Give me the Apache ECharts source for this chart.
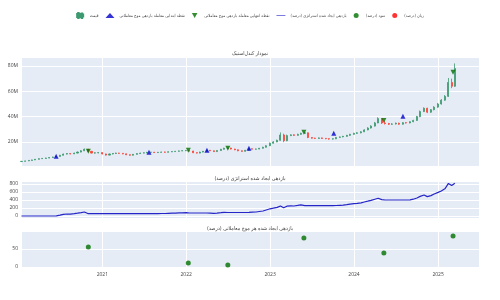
<!DOCTYPE html>
<html><head><meta charset="utf-8">
<script src="https://cdn.jsdelivr.net/npm/echarts@6/dist/echarts.min.js"></script>
<style>html,body{margin:0;padding:0;background:#fff}#c{width:500px;height:300px}</style>
</head><body><div id="c"></div>
<script>
// Semi-monthly candles (1st / 15th) starting 2020-01-15, values in millions
const firstOpen = 4.5;
const closes = [
 4.7, 5.0, 5.4, 5.8, 6.3, 6.8, 7.0, 7.3, 7.7, 8.1,
 8.6, 9.5, 10.4, 10.8, 10.6, 11.2, 12.0, 13.0, 14.2, 12.6,
 11.2, 11.4, 11.6, 10.5, 9.6, 10.5, 10.9, 11.2, 11.0, 10.6,
 9.9, 9.5, 10.2, 10.8, 11.2, 11.4, 11.8, 11.9, 11.6, 11.8,
 12.0, 11.9, 12.2, 12.4, 12.6, 12.9, 13.1, 13.2, 12.8, 11.5,
 11.2, 12.0, 12.6, 13.4, 13.0, 12.4, 13.2, 14.2, 15.0, 15.2,
 14.4, 13.8, 13.0, 12.6, 13.4, 14.6, 14.3, 14.4, 15.0, 15.8,
 17.0, 19.0, 20.0, 21.3, 25.5, 21.0, 25.0, 25.6, 25.2, 26.0,
 26.8, 27.2, 23.5, 23.0, 22.8, 23.2, 22.8, 22.6, 22.3, 22.5,
 23.6, 24.0, 24.4, 25.2, 26.0, 26.8, 27.2, 28.0, 29.5, 31.0,
 32.5, 35.0, 38.5, 35.0, 34.5, 34.0, 34.2, 34.8, 34.0, 35.2,
 35.0, 36.0, 37.0, 40.0, 44.0, 46.6, 43.5, 45.5, 47.5, 50.0,
 53.0, 56.0, 67.0, 64.0, 78.0
];
const lows = [
 4.4, 4.6, 4.9, 5.3, 5.7, 6.1, 6.6, 6.8, 7.1, 7.5,
 7.9, 8.4, 9.3, 10.1, 10.2, 10.4, 11.0, 11.8, 12.8, 12.2,
 10.9, 10.8, 11.0, 10.2, 9.3, 9.4, 10.2, 10.6, 10.7, 10.3,
 9.6, 9.2, 9.3, 10.0, 10.6, 11.0, 11.1, 11.5, 11.3, 11.4,
 11.6, 11.6, 11.7, 12.0, 12.2, 12.4, 12.7, 12.8, 12.5, 11.2,
 10.9, 11.0, 11.8, 12.4, 12.7, 12.1, 12.2, 13.0, 14.0, 14.7,
 14.1, 13.5, 12.7, 12.3, 12.4, 13.2, 14.0, 14.0, 14.2, 14.8,
 15.6, 16.8, 18.7, 19.8, 21.0, 19.8, 20.5, 24.6, 24.8, 24.9,
 25.7, 26.3, 23.0, 22.6, 22.4, 22.5, 22.4, 22.2, 21.8, 21.9,
 22.2, 23.3, 23.7, 24.1, 24.8, 25.7, 26.3, 26.8, 27.8, 29.2,
 30.6, 32.2, 34.8, 34.2, 33.8, 33.4, 33.5, 33.8, 33.5, 33.7,
 34.6, 34.7, 35.6, 36.7, 39.6, 43.6, 42.8, 43.0, 45.0, 47.0,
 49.5, 52.5, 55.5, 62.5, 63.5
];
const highs = [
 4.9, 5.2, 5.6, 6.0, 6.5, 7.0, 7.3, 7.5, 7.9, 8.4,
 8.9, 9.8, 10.8, 11.2, 11.1, 11.5, 12.4, 13.5, 14.8, 14.5,
 12.8, 11.8, 12.0, 11.8, 10.7, 10.8, 11.2, 11.5, 11.4, 11.2,
 10.8, 10.1, 10.5, 11.1, 11.5, 11.7, 12.1, 12.2, 12.1, 12.1,
 12.3, 12.3, 12.5, 12.7, 12.9, 13.2, 13.4, 13.6, 13.5, 13.0,
 11.8, 12.3, 12.9, 13.8, 13.6, 13.2, 13.5, 14.5, 15.4, 15.6,
 15.4, 14.6, 14.0, 13.2, 13.7, 14.9, 14.8, 14.7, 15.3, 16.2,
 17.4, 19.5, 20.6, 21.8, 27.5, 26.5, 25.8, 26.0, 26.0, 26.5,
 27.3, 27.9, 27.5, 23.8, 23.3, 23.5, 23.4, 23.0, 22.8, 22.8,
 23.9, 24.3, 24.8, 25.6, 26.4, 27.2, 27.7, 28.5, 30.0, 31.6,
 33.2, 35.8, 39.5, 38.9, 36.5, 35.0, 34.8, 35.3, 35.2, 35.6,
 35.6, 36.4, 37.5, 40.6, 44.8, 47.3, 47.0, 46.0, 48.2, 50.8,
 53.8, 57.0, 70.5, 70.0, 82.0
];
// Strategy cumulative return (%) on the same dates
const strategyReturn = [
 0, 0, 0, 0, 0, 0, 0, 0, 0, 0,
 2, 20, 42, 50, 48, 58, 70, 85, 100, 58,
 58, 58, 58, 58, 58, 58, 58, 58, 58, 58,
 58, 58, 58, 58, 58, 58, 58, 60, 58, 60,
 63, 62, 66, 70, 73, 77, 80, 82, 75, 75,
 75, 75, 75, 75, 72, 68, 74, 82, 90, 88,
 88, 88, 88, 88, 88, 90, 95, 100, 112, 125,
 150, 180, 195, 215, 250, 205, 245, 255, 250, 265,
 280, 258, 258, 258, 258, 258, 258, 258, 258, 258,
 262, 268, 273, 285, 298, 310, 316, 328, 350, 370,
 390, 420, 445, 410, 400, 400, 400, 400, 400, 400,
 400, 405, 420, 450, 490, 525, 485, 510, 550, 590,
 625, 690, 815, 760, 820
];
const entryDates = ['2020-06-14','2021-07-23','2022-04-01','2022-10-01','2023-10-05','2024-08-01'];
const entryPrices = [8.7, 11.8, 13.4, 15.0, 26.9, 40.3];
const exitDates = ['2020-11-01','2022-01-10','2022-07-01','2023-05-28','2024-05-10','2025-03-07'];
const exitPrices = [12.6, 13.4, 15.0, 27.7, 37.0, 75.0];
const profitDates = exitDates;
const profitValues = [55.5, 11, 5.5, 80.5, 39, 86];
const lossDates = [];
const lossValues = [];

// Tick values
const priceTicks = [20, 40, 60, 80];
const strategyTicks = [0, 200, 400, 600, 800];
const waveTicks = [0, 50];

const names = {
  price: 'قیمت',
  entry: 'نقطه ابتدایی معامله بازدهی موج معاملاتی',
  exit: 'نقطه انتهایی معامله بازدهی موج معاملاتی',
  strat: 'بازدهی ایجاد شده استراتژی (درصد)',
  profit: 'سود (درصد)',
  loss: 'زیان (درصد)'
};
const titles = ['نمودار کندل‌استیک', 'بازدهی ایجاد شده استراتژی (درصد)', 'بازدهی ایجاد شده هر موج معاملاتی (درصد)'];

function dateAt(i){
  const m = Math.floor((i+1)/2);
  const y = 2020 + Math.floor(m/12);
  const mo = m % 12 + 1;
  const d = i % 2 === 0 ? 15 : 1;
  return y + '-' + String(mo).padStart(2,'0') + '-' + String(d).padStart(2,'0');
}
const dates = closes.map((_, i) => dateAt(i));
const candleData = closes.map((c, i) => [dates[i], i === 0 ? firstOpen : closes[i-1], c, lows[i], highs[i]]);
const stratData = strategyReturn.map((v, i) => [dates[i], v]);
const zip = (a, b) => a.map((d, i) => [d, b[i]]);

const chart = echarts.init(document.getElementById('c'));
const fa = '"DejaVu Sans Condensed", "DejaVu Sans", sans-serif';
const lab = {color: '#444', fontSize: 5, fontFamily: 'Open Sans, sans-serif'};
const grids = [
  {left: 21, right: 21, top: 58, height: 108},
  {left: 21, right: 21, top: 182, height: 36},
  {left: 21, right: 21, top: 232, height: 36}
].map(g => Object.assign(g, {show: true, backgroundColor: '#E5ECF6', borderWidth: 0}));
const YEAR = 365.25 * 24 * 3600 * 1000;
const xAxes = [0, 1, 2].map(k => ({
  type: 'time', gridIndex: k, min: '2020-01-13', max: '2025-06-28',
  minInterval: YEAR * 0.9, maxInterval: YEAR * 1.1,
  axisLine: {show: false}, axisTick: {show: false},
  splitLine: {show: true, lineStyle: {color: '#fff', width: 1}},
  axisLabel: {show: k === 2, formatter: '{yyyy}', showMinLabel: false, showMaxLabel: false, margin: 4, ...lab}
}));
const yBase = (k, min, max, step, ticks, fmt) => {
  const label = {customValues: ticks, hideOverlap: false, margin: 3, ...lab};
  if (fmt) label.formatter = fmt;
  return {
    type: 'value', gridIndex: k, min: min, max: max,
    minInterval: step, maxInterval: step,
    axisTick: {show: false, customValues: ticks},
    splitLine: {show: true, lineStyle: {color: '#fff', width: 1}},
    axisLabel: label
  };
};
const yAxes = [
  yBase(0, 1, 86.3, 20, priceTicks, v => v + 'M'),
  yBase(1, -50, 850, 200, strategyTicks, null),
  yBase(2, -3, 97, 50, waveTicks, null)
];
const downTri = 'path://M0,0 L10,0 L5,9 Z';

chart.setOption({
  animation: false,
  backgroundColor: '#fff',
  title: titles.map((t, k) => ({
    text: t, left: 'center', top: [46, 171, 221][k],
    textStyle: {fontSize: 5.3, fontWeight: 'normal', color: '#444', fontFamily: fa}
  })),
  legend: {
    top: 7, left: 'center', itemWidth: 9, itemHeight: 5, itemGap: 7,
    textStyle: {fontSize: 4.2, color: '#444', fontFamily: fa},
    data: [
      {name: names.price, icon: 'path://M2,0 L3,0 L3,2 L5,2 L5,8 L3,8 L3,10 L2,10 L2,8 L0,8 L0,2 L2,2 Z M9,1 L10,1 L10,3 L12,3 L12,7 L10,7 L10,10 L9,10 L9,7 L7,7 L7,3 L9,3 Z'},
      {name: names.entry, icon: 'triangle'},
      {name: names.exit, icon: downTri},
      {name: names.strat, icon: 'path://M0,0 L30,0 L30,2 L0,2 Z'},
      {name: names.profit, icon: 'circle'},
      {name: names.loss, icon: 'circle'}
    ]
  },
  grid: grids,
  xAxis: xAxes,
  yAxis: yAxes,
  series: [
    {
      name: names.price, type: 'candlestick', xAxisIndex: 0, yAxisIndex: 0,
      data: candleData, encode: {x: 0, y: [1, 2, 3, 4]}, barWidth: 1.6,
      itemStyle: {color: '#3D9970', color0: '#FF4136', borderColor: '#3D9970', borderColor0: '#FF4136', borderWidth: 0.8}
    },
    {
      name: names.entry, type: 'scatter', xAxisIndex: 0, yAxisIndex: 0,
      data: zip(entryDates, entryPrices), symbol: 'triangle', symbolSize: 5,
      itemStyle: {color: '#0000CC'}
    },
    {
      name: names.exit, type: 'scatter', xAxisIndex: 0, yAxisIndex: 0,
      data: zip(exitDates, exitPrices), symbol: downTri, symbolSize: 5,
      itemStyle: {color: '#007000'}
    },
    {
      name: names.strat, type: 'line', xAxisIndex: 1, yAxisIndex: 1,
      data: stratData, showSymbol: false, symbol: 'none',
      lineStyle: {color: '#2626c8', width: 1.2}, itemStyle: {color: '#2626c8'}
    },
    {
      name: names.profit, type: 'scatter', xAxisIndex: 2, yAxisIndex: 2,
      data: zip(profitDates, profitValues), symbolSize: 5,
      itemStyle: {color: '#007000'}
    },
    {
      name: names.loss, type: 'scatter', xAxisIndex: 2, yAxisIndex: 2,
      data: zip(lossDates, lossValues), symbolSize: 5,
      itemStyle: {color: '#FF0000'}
    }
  ]
});
</script>
</body></html>
